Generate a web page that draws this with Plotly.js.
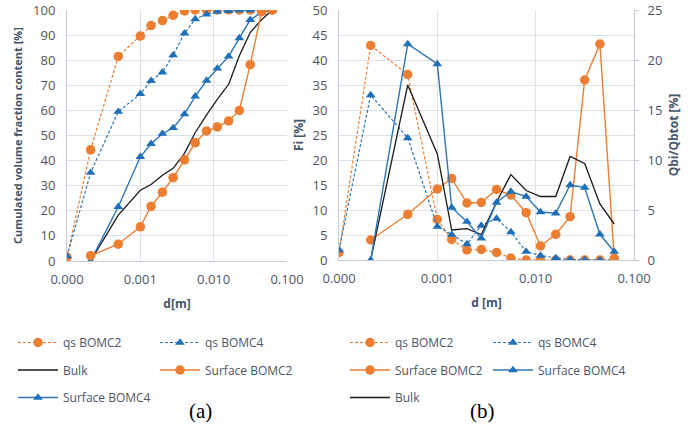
<!DOCTYPE html>
<html>
<head>
<meta charset="utf-8">
<script src="https://cdn.plot.ly/plotly-3.0.1.min.js"></script>
<style>html,body{margin:0;padding:0;background:#fff;}#chart{width:697px;height:439px;}</style>
</head>
<body>
<div id="chart"></div>
<script>
// ---- data ----
const sizes = [0.0001, 0.00021, 0.0005, 0.001, 0.0014, 0.002, 0.0028, 0.004, 0.0056, 0.008, 0.0112, 0.016, 0.0224, 0.0315, 0.045, 0.063];
const xTickVals = [0.0001, 0.001, 0.01, 0.1];
const xTickText = ["0.000", "0.001", "0.010", "0.100"];

// (a) cumulated volume fraction content [%]
const cumQsBOMC2   = [1.5, 44.3, 81.5, 89.6, 93.8, 95.8, 97.9, 99.6, 100, 100, 100, 100, 100, 100, 100, 100];
const cumQsBOMC4   = [1.9, 35.2, 59.5, 66.6, 71.8, 75.2, 82.0, 90.7, 96.4, 98.3, 99.4, 99.7, 100, 100, 100, 100];
const cumBulk      = [null, 0, 18.3, 28.2, 30.5, 34.2, 36.9, 42.9, 51.1, 58.2, 64.4, 70.4, 81.8, 91.0, 96.1, 100];
const cumSurfBOMC2 = [null, 2.1, 6.7, 13.6, 21.8, 27.4, 33.2, 40.3, 47.1, 51.8, 53.4, 55.8, 60.0, 78.2, 99.3, 100];
const cumSurfBOMC4 = [null, 0, 21.6, 41.5, 46.7, 50.7, 53.0, 58.5, 65.6, 71.9, 76.7, 81.5, 88.8, 96.1, 99.0, 100];

// (b) per-class fractions: qs on Fi [%] axis, surface & bulk on Qbi/Qbtot [%] axis
const fiQsBOMC2   = [1.5, 42.9, 37.1, 8.1, 4.1, 2.0, 2.1, 1.5, 0.4, 0, 0, 0, 0, 0, 0, 0];
const fiQsBOMC4   = [2.0, 33.0, 24.4, 6.7, 5.1, 3.2, 6.9, 8.3, 5.6, 1.7, 0.9, 0.4, 0.1, 0, 0, 0];
const qbSurfBOMC2 = [null, 2.0, 4.57, 7.1, 8.15, 5.7, 5.75, 7.05, 6.5, 4.73, 1.4, 2.57, 4.33, 18.0, 21.6, 0.17];
const qbSurfBOMC4 = [null, 0, 21.6, 19.6, 5.25, 3.83, 2.17, 5.75, 6.85, 6.35, 4.8, 4.67, 7.5, 7.25, 2.57, 0.83];
const qbBulk      = [null, 0, 17.5, 10.6, 3.0, 3.13, 2.55, 5.8, 8.55, 6.95, 6.35, 6.35, 10.35, 9.65, 5.6, 3.6];

// ---- styles ----
const ORANGE = "#ED7D31", BLUE = "#2E75B6", BLUEM = "#1F6FBA", BLACK = "#1a1a1a";
const TXT = "#4B5566", TITLE = "#44546A";
const GRID = "#DDE2EA", LINE = "#C5CCD8";
const FONT = "Open Sans";

function qsTrace(name, x, y, color, mcolor, symbol, xa, ya, leg, grp) {
  return {x, y, name, type: "scatter", mode: "lines+markers", xaxis: xa, yaxis: ya, legend: leg, legendgroup: grp,
    line: {color, width: 1.2, dash: "3px,2px"},
    marker: {symbol, size: symbol === "circle" ? 9.5 : 8.5, color: mcolor}};
}
function solidTrace(name, x, y, color, mcolor, symbol, xa, ya, leg, grp) {
  return {x, y, name, type: "scatter", mode: "lines+markers", xaxis: xa, yaxis: ya, legend: leg, legendgroup: grp,
    line: {color, width: 1.4},
    marker: {symbol, size: symbol === "circle" ? 9.5 : 8.5, color: mcolor}};
}
function bulkTrace(x, y, xa, ya, leg, grp) {
  return {x, y, name: "Bulk", type: "scatter", mode: "lines", xaxis: xa, yaxis: ya, legend: leg, legendgroup: grp,
    line: {color: BLACK, width: 1.3}};
}

const traces = [
  // (a)
  qsTrace("qs BOMC2", sizes, cumQsBOMC2, ORANGE, ORANGE, "circle", "x", "y", "legend", "a1"),
  bulkTrace(sizes, cumBulk, "x", "y", "legend", "a2"),
  solidTrace("Surface BOMC4", sizes, cumSurfBOMC4, BLUE, BLUEM, "triangle-up", "x", "y", "legend", "a3"),
  qsTrace("qs BOMC4", sizes, cumQsBOMC4, BLUE, BLUEM, "triangle-up", "x", "y", "legend2", "a4"),
  solidTrace("Surface BOMC2", sizes, cumSurfBOMC2, ORANGE, ORANGE, "circle", "x", "y", "legend2", "a5"),
  // (b)
  qsTrace("qs BOMC2", sizes, fiQsBOMC2, ORANGE, ORANGE, "circle", "x2", "y2", "legend3", "b1"),
  solidTrace("Surface BOMC2", sizes, qbSurfBOMC2, ORANGE, ORANGE, "circle", "x2", "y3", "legend3", "b2"),
  bulkTrace(sizes, qbBulk, "x2", "y3", "legend3", "b3"),
  qsTrace("qs BOMC4", sizes, fiQsBOMC4, BLUE, BLUEM, "triangle-up", "x2", "y2", "legend4", "b4"),
  solidTrace("Surface BOMC4", sizes, qbSurfBOMC4, BLUE, BLUEM, "triangle-up", "x2", "y3", "legend4", "b5")
];

const tickFont = {family: FONT, size: 13, color: TXT};
const titleFont = {family: FONT, size: 12, color: TITLE, weight: "bold"};

function xAxis(domain, anchor, title) {
  return {type: "log", range: [-4, -1], domain, anchor,
    tickvals: xTickVals, ticktext: xTickText, tickfont: tickFont,
    showgrid: true, gridcolor: GRID, gridwidth: 1,
    showline: true, linecolor: LINE, linewidth: 1, mirror: false,
    ticks: "", ticklabelstandoff: 6, zeroline: false,
    title: {text: title, font: titleFont, standoff: 13}};
}

function legendBox(xpx, ypx) {
  return {x: (xpx - 67) / 567, y: 1 - (ypx - 10) / 251, xanchor: "left", yanchor: "top",
    orientation: "v", bgcolor: "rgba(0,0,0,0)", borderwidth: 0, tracegroupgap: 8.5,
    font: {family: FONT, size: 12, color: TXT}, itemwidth: 40};
}

const layout = {
  width: 697, height: 439,
  margin: {l: 67, r: 63, t: 10, b: 178, pad: 0},
  paper_bgcolor: "#ffffff", plot_bgcolor: "#ffffff",
  showlegend: true,
  font: {family: FONT, color: TXT},
  xaxis: xAxis([0, 220 / 567], "y", "d[m]"),
  yaxis: {range: [0, 100], dtick: 10, domain: [0, 1], anchor: "x",
    tickfont: tickFont, showgrid: true, gridcolor: GRID, zeroline: false,
    showline: true, linecolor: LINE, ticks: "", ticklabelstandoff: 8,
    title: {text: "Cumulated volume fraction content [%]", font: {family: FONT, size: 11, color: TITLE, weight: "bold"}, standoff: 8}},
  xaxis2: xAxis([272 / 567, 1], "y2", "d [m]"),
  yaxis2: {range: [0, 50], dtick: 5, domain: [1 / 251, 1], anchor: "x2",
    tickfont: tickFont, showgrid: true, gridcolor: GRID, zeroline: false,
    showline: true, linecolor: LINE, ticks: "", ticklabelstandoff: 8,
    title: {text: "Fi [%]", font: titleFont, standoff: 6}},
  yaxis3: {range: [0, 25], dtick: 5, overlaying: "y2", side: "right", anchor: "x2",
    tickfont: tickFont, showgrid: false, zeroline: false,
    showline: true, linecolor: LINE, ticks: "outside", ticklen: 4, tickcolor: LINE, ticklabelstandoff: 6,
    title: {text: "Qbi/Qbtot [%]", font: titleFont, standoff: 8}},
  legend: legendBox(13, 328),
  legend2: legendBox(155, 328),
  legend3: legendBox(345, 328),
  legend4: legendBox(488, 328),
  annotations: [
    {text: "(a)", x: (187 - 67) / 567, y: 1 - (425 - 10) / 251, xref: "paper", yref: "paper",
     showarrow: false, font: {family: "Liberation Serif", size: 21, color: "#000"}},
    {text: "(b)", x: (497 - 67) / 567, y: 1 - (425 - 10) / 251, xref: "paper", yref: "paper",
     showarrow: false, font: {family: "Liberation Serif", size: 21, color: "#000"}}
  ]
};

Plotly.newPlot("chart", traces, layout, {displayModeBar: false, staticPlot: true});
</script>
</body>
</html>
